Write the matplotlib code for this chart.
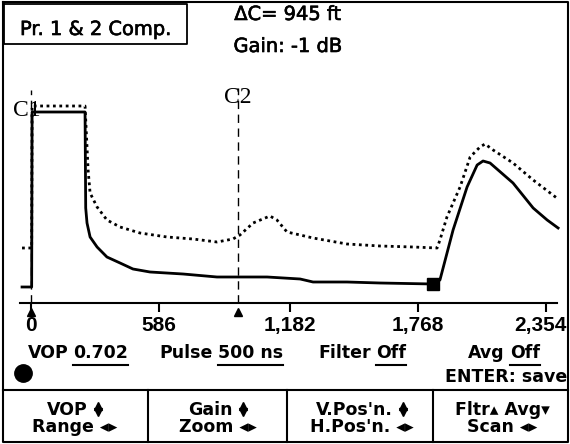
import matplotlib
matplotlib.use("Agg")
import matplotlib.pyplot as plt
import matplotlib.patheffects as pe
from matplotlib.transforms import ScaledTranslation

# ---------------- data ----------------
TICKS_FT = [0, 586, 1182, 1768, 2354]
TICK_LABELS = ["0", "586", "1,182", "1,768", "2,354"]

SOLID_FT = [-41, 3, 5, 247, 250, 256, 270, 302, 347, 407, 466, 544, 695, 850, 942,
            1079, 1230, 1289, 1444, 1595, 1837, 1869, 1929, 1993, 2039, 2066, 2098,
            2203, 2295, 2359, 2409]
SOLID_AMP = [16, 16, 191, 191, 95, 80, 66, 56, 46, 40, 34, 31, 29, 26, 26,
             26, 24, 21, 21, 20, 19, 23, 73, 116, 138, 142, 140,
             120, 95, 83, 75]

DOTTED_FT = [-41, 3, 5, 247, 261, 270, 302, 347, 407, 498, 622, 740, 850, 923, 955,
             1015, 1092, 1124, 1170, 1230, 1289, 1444, 1595, 1746, 1856, 1869, 1901,
             1961, 2007, 2052, 2075, 2112, 2203, 2295, 2409]
DOTTED_AMP = [55, 55, 197, 197, 133, 110, 96, 83, 76, 70, 66, 64, 61, 64, 68,
              80, 87, 83, 71, 68, 65, 59, 57, 56, 55, 63, 86,
              116, 146, 156, 159, 153, 140, 123, 104]

CURSOR_FT = [0, 945]
CURSOR_NAMES = ["C1", "C2"]
END_MARK_FT = [1837]
END_MARK_AMP = [19]

TITLE = "Pr. 1 & 2 Comp."
DELTA_TEXT = "\u0394C= 945 ft"
GAIN_TEXT = "Gain: -1 dB"
INFO_LABELS = ["VOP", "Pulse", "Filter", "Avg"]
INFO_VALUES = ["0.702", "500 ns", "Off", "Off"]
BUTTON_TOP = ["VOP", "Gain", "V.Pos'n.", "Fltr\u25b4 Avg\u25be"]
BUTTON_TOP_ICON = [True, True, True, False]
BUTTON_BOTTOM = ["Range \u25c2\u25b8", "Zoom \u25c2\u25b8", "H.Pos'n. \u25c2\u25b8", "Scan \u25c2\u25b8"]

# ---------------- figure ----------------
W, H = 570, 444
fig = plt.figure(figsize=(W / 100, H / 100), dpi=100)
fig.patch.set_facecolor("white")
ui = fig.add_axes([0, 0, 1, 1])
ui.set_xlim(0, W)
ui.set_ylim(H, 0)
ui.axis("off")
renderer = fig.canvas.get_renderer()

K = "black"
FS_B = 12.5
heavy = [pe.withStroke(linewidth=0.45, foreground=K)]


def width(t):
    bb = t.get_window_extent(renderer=renderer)
    return bb.x1 - bb.x0


# outer frame and title box
ui.plot([3, 568, 568, 3, 3], [2, 2, 442, 442, 2], color=K, lw=1.5)
ui.plot([4, 187, 187, 4, 4], [4, 4, 44, 44, 4], color=K, lw=1.3)
ui.text(96, 35, TITLE, ha="center", va="baseline", fontsize=14, color=K, path_effects=heavy)
ui.text(288, 20, DELTA_TEXT, ha="center", va="baseline", fontsize=14, color=K, path_effects=heavy)
ui.text(288, 52, GAIN_TEXT, ha="center", va="baseline", fontsize=14, color=K, path_effects=heavy)

# ---------------- plot ----------------
x_left, x_right, y_bot, y_top = 20, 557, 303, 60
ax = fig.add_axes([x_left / W, 1 - y_bot / H, (x_right - x_left) / W, (y_bot - y_top) / H])
ax.patch.set_alpha(0)
ax.set_xlim(-50.3, 2404)
ax.set_ylim(0, 243)
for s in ["top", "right", "left"]:
    ax.spines[s].set_visible(False)
ax.spines["bottom"].set_linewidth(1.5)
ax.set_yticks([])
ax.tick_params(axis="x", direction="out", length=6.5, width=1.5, pad=2.5, colors=K)
ax.set_xticks(TICKS_FT, TICK_LABELS, fontsize=15, fontweight="bold",
              family="Liberation Sans")
last = ax.get_xticklabels()[-1]
last.set_transform(last.get_transform() + ScaledTranslation(-4 / 72, 0, fig.dpi_scale_trans))

ax.plot(DOTTED_FT, DOTTED_AMP, color=K, lw=2.0, dashes=(1, 1.3), clip_on=False)
ax.plot(SOLID_FT, SOLID_AMP, color=K, lw=2.0, clip_on=False)
ax.plot(END_MARK_FT, END_MARK_AMP, marker="s", ms=9, color=K, ls="none", clip_on=False)

cursor_top = [213, 215]
label_amp = [193, 206]
label_dx = [-18, 0]
for ft, top, name, la, dx in zip(CURSOR_FT, cursor_top, CURSOR_NAMES, label_amp, label_dx):
    ax.plot([ft, ft], [0, top], color=K, lw=1.0, dashes=(6, 4), clip_on=False)
    ax.text(ft + dx, la, name, ha="center", va="center", fontsize=17,
            family="Liberation Serif", color=K)
ax.plot(CURSOR_FT, [-8.5] * len(CURSOR_FT), marker="^", ms=6, color=K, ls="none",
        clip_on=False)

# ---------------- info row ----------------
group_cx = [78, 221, 362, 504]
for lab, val, cx in zip(INFO_LABELS, INFO_VALUES, group_cx):
    y = 358
    t1 = ui.text(0, y, lab, ha="left", va="baseline", fontsize=FS_B, weight="bold", color=K)
    t2 = ui.text(0, y, val, ha="left", va="baseline", fontsize=FS_B, weight="bold", color=K)
    w1, w2, gap = width(t1), width(t2), 5
    x0 = cx - (w1 + gap + w2) / 2
    t1.set_x(x0)
    t2.set_x(x0 + w1 + gap)
    ui.plot([x0 + w1 + gap, x0 + w1 + gap + w2], [y + 6.5, y + 6.5], color=K, lw=1.5)

ui.text(567, 382, "ENTER: save", ha="right", va="baseline", fontsize=FS_B,
        weight="bold", color=K)
ui.plot([23], [373], marker="o", ms=12.5, color=K)

# ---------------- button row ----------------
ui.plot([3, 568], [390, 390], color=K, lw=1.5)
for xd in [148, 287, 433]:
    ui.plot([xd, xd], [390, 442], color=K, lw=1.5)
cell_cx = [75, 218, 362, 502]
for txt, icon, bot, cx in zip(BUTTON_TOP, BUTTON_TOP_ICON, BUTTON_BOTTOM, cell_cx):
    y1, y2 = 415, 432
    t = ui.text(0, y1, txt, ha="left", va="baseline", fontsize=FS_B, weight="bold", color=K)
    w = width(t)
    if icon:
        gap, iw = 6, 9
        x0 = cx - (w + gap + iw) / 2
        t.set_x(x0)
        xi = x0 + w + gap + iw / 2
        ui.plot([xi], [y1 - 9.5], marker="^", ms=5.5, color=K)
        ui.plot([xi], [y1 - 3.2], marker="v", ms=5.5, color=K)
    else:
        t.set_x(cx - w / 2)
    ui.text(cx, y2, bot, ha="center", va="baseline", fontsize=FS_B, weight="bold", color=K)

fig.savefig("out.png", dpi=100, facecolor="white")
